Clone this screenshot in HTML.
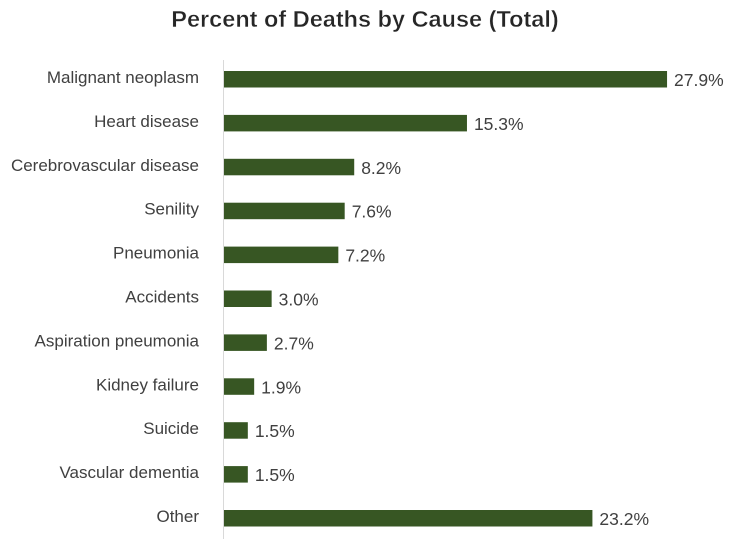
<!DOCTYPE html><html><head><style>
body{margin:0;background:#fff;width:730px;height:539px;overflow:hidden;font-family:"Liberation Sans",sans-serif}
svg text{font-family:"Liberation Sans",sans-serif}
</style></head><body>
<svg width="730" height="539" xmlns="http://www.w3.org/2000/svg">
<text x="365" y="27" text-anchor="middle" font-size="23.5" font-weight="bold" fill="#262626" stroke="#fff" stroke-width="0.4">Percent of Deaths by Cause (Total)</text>
<line x1="223.5" y1="60" x2="223.5" y2="539" stroke="#d9d9d9" stroke-width="1"/>
<g id="bars"></g>
</svg>
<script>
var d=[["Malignant neoplasm",27.9],["Heart disease",15.3],["Cerebrovascular disease",8.2],["Senility",7.6],["Pneumonia",7.2],["Accidents",3.0],["Aspiration pneumonia",2.7],["Kidney failure",1.9],["Suicide",1.5],["Vascular dementia",1.5],["Other",23.2]];
var g=document.getElementById("bars"),s="";
d.forEach(function(r,i){var y=71+i*43.9,w=r[1]*15.88;
s+='<rect x="224" y="'+y+'" width="'+w+'" height="16.5" fill="#375623"/>';
s+='<text x="199" y="'+(y+12)+'" text-anchor="end" font-size="17" fill="#404040">'+r[0]+'</text>';
s+='<text x="'+(224+w+7)+'" y="'+(y+15)+'" font-size="17.5" fill="#404040">'+r[1].toFixed(1)+'%</text>';});
g.innerHTML=s;
</script>
</body></html>
